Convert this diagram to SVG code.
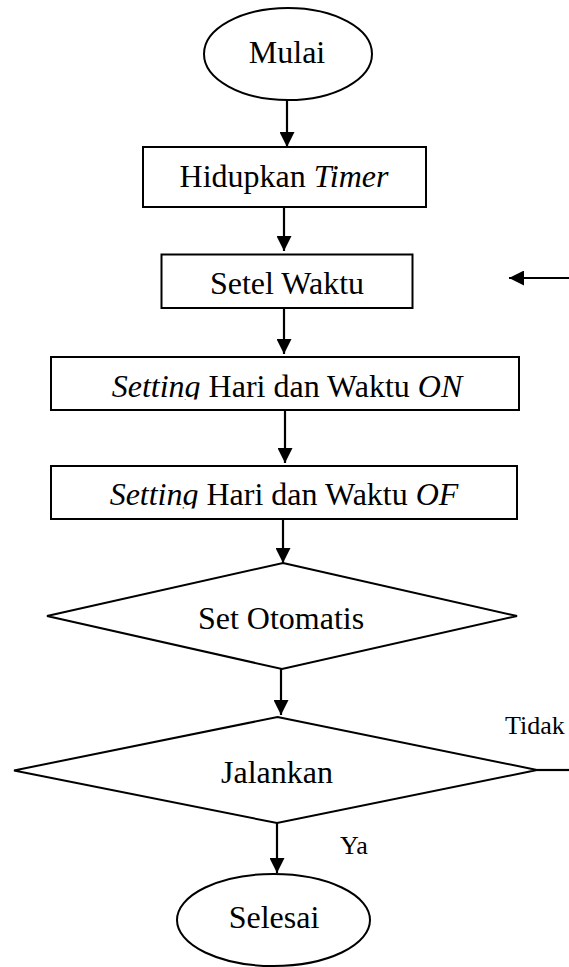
<svg xmlns="http://www.w3.org/2000/svg" width="569" height="967" viewBox="0 0 569 967">
<style>
.shape{fill:#fff;stroke:#000;stroke-width:2}
.conn{fill:none;stroke:#000;stroke-width:2.2}
text{font-family:"Liberation Serif","Times New Roman",serif;font-size:32px;fill:#000;text-anchor:middle}
.lbl{font-size:26px;text-anchor:start}
.it{font-style:italic}
</style>
<defs>
<marker id="ah" markerUnits="userSpaceOnUse" markerWidth="16" markerHeight="15" refX="15" refY="7.5" orient="auto">
<path d="M0,0 L15,7.5 L0,15 Z" fill="#000"/>
</marker>
<clipPath id="clipOn"><rect x="51" y="357" width="468" height="42.5"/></clipPath>
<clipPath id="clipOf"><rect x="51" y="466" width="466" height="42.5"/></clipPath>
</defs>
<rect width="569" height="967" fill="#fff"/>
<g id="connectors">
<line class="conn" x1="287" y1="100" x2="287" y2="147" marker-end="url(#ah)"/>
<line class="conn" x1="284" y1="207" x2="284" y2="251" marker-end="url(#ah)"/>
<line class="conn" x1="284" y1="308" x2="284" y2="354" marker-end="url(#ah)"/>
<line class="conn" x1="285" y1="410" x2="285" y2="463" marker-end="url(#ah)"/>
<line class="conn" x1="283" y1="519" x2="283" y2="563" marker-end="url(#ah)"/>
<line class="conn" x1="281" y1="669" x2="281" y2="715" marker-end="url(#ah)"/>
<line class="conn" x1="277" y1="823" x2="277" y2="873" marker-end="url(#ah)"/>
<line class="conn" x1="537" y1="770" x2="569" y2="770" stroke-width="1.5"/>
<line class="conn" x1="569" y1="278" x2="509" y2="278" marker-end="url(#ah)"/>
<text class="lbl" x="505" y="734">Tidak</text>
<text class="lbl" x="340" y="854">Ya</text>
</g>
<g id="mulai">
<ellipse class="shape" cx="288" cy="54" rx="84" ry="46"/>
<text x="287" y="63">Mulai</text>
</g>
<g id="hidupkan">
<rect class="shape" x="143" y="147" width="283" height="60"/>
<text x="284" y="187">Hidupkan <tspan class="it">Timer</tspan></text>
</g>
<g id="setel">
<rect class="shape" x="161.5" y="254.5" width="251" height="53.5"/>
<text x="287" y="294">Setel Waktu</text>
</g>
<g id="setting-on">
<rect class="shape" x="51" y="357" width="468" height="53"/>
<text x="287" y="397" clip-path="url(#clipOn)"><tspan class="it">Setting</tspan> Hari dan Waktu <tspan class="it">ON</tspan></text>
</g>
<g id="setting-of">
<rect class="shape" x="51" y="466" width="466" height="53"/>
<text x="284" y="505" clip-path="url(#clipOf)"><tspan class="it">Setting</tspan> Hari dan Waktu <tspan class="it">OF</tspan></text>
</g>
<g id="set-otomatis">
<polygon class="shape" points="283,563 517,616 282,669 47,616"/>
<text x="281" y="629">Set Otomatis</text>
</g>
<g id="jalankan">
<polygon class="shape" points="277.5,717 537,770 277,823 14,770.5"/>
<text x="277" y="783">Jalankan</text>
</g>
<g id="selesai">
<ellipse class="shape" cx="273.5" cy="920" rx="96.5" ry="46"/>
<text x="274" y="928">Selesai</text>
</g>
</svg>
